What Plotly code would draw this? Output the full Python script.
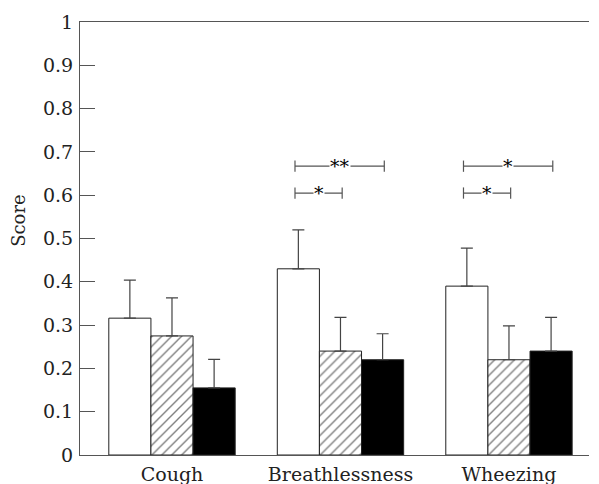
import plotly.graph_objects as go

categories = ["Cough", "Breathlessness", "Wheezing"]
series_names = ["Group A", "Group B", "Group C"]
values_a = [0.316, 0.430, 0.390]
errors_a = [0.088, 0.090, 0.088]
values_b = [0.275, 0.240, 0.220]
errors_b = [0.088, 0.078, 0.078]
values_c = [0.155, 0.220, 0.240]
errors_c = [0.066, 0.060, 0.078]
y_ticks = [0, 0.1, 0.2, 0.3, 0.4, 0.5, 0.6, 0.7, 0.8, 0.9, 1]
y_tick_labels = ["0", "0.1", "0.2", "0.3", "0.4", "0.5", "0.6", "0.7", "0.8", "0.9", "1"]
# significance brackets: (category index, from bar, to bar, level, label)
brackets = [
    (1, 0, 2, 0.667, "**"),
    (1, 0, 1, 0.605, "*"),
    (2, 0, 2, 0.667, "*"),
    (2, 0, 1, 0.605, "*"),
]

FONT = "DejaVu Serif"
n_series = 3
bar_w = 0.25

fig = go.Figure()
styles = [
    dict(color="white", pattern=None),
    dict(color="white", pattern=dict(shape="/", fgcolor="#000", bgcolor="white", size=7, solidity=0.2)),
    dict(color="black", pattern=None),
]
for name, vals, errs, st in zip(series_names, [values_a, values_b, values_c],
                                [errors_a, errors_b, errors_c], styles):
    marker = dict(color=st["color"], line=dict(color="#222", width=1))
    if st["pattern"]:
        marker["pattern"] = st["pattern"]
    fig.add_trace(go.Bar(
        x=categories, y=vals, name=name, marker=marker,
        error_y=dict(type="data", array=errs, arrayminus=[0] * len(errs), symmetric=False,
                     color="#444", thickness=1.2, width=6),
        showlegend=False,
    ))

def bar_center(ci, bi):
    return ci + (bi - (n_series - 1) / 2) * bar_w

for ci, b0, b1, lev, lab in brackets:
    x0 = bar_center(ci, b0) - 0.02
    x1 = bar_center(ci, b1) + 0.01
    lc = dict(color="#555", width=1.2)
    fig.add_shape(type="line", x0=x0, x1=x1, y0=lev, y1=lev, line=lc)
    fig.add_shape(type="line", x0=x0, x1=x0, y0=lev - 0.013, y1=lev + 0.013, line=lc)
    fig.add_shape(type="line", x0=x1, x1=x1, y0=lev - 0.013, y1=lev + 0.013, line=lc)
    fig.add_annotation(x=(x0 + x1) / 2, y=lev, text=lab, showarrow=False,
                       bgcolor="white", font=dict(family=FONT, size=19, color="#000"),
                       yshift=0, borderpad=0)

fig.add_annotation(x=-0.12, y=0.543, xref="paper", yref="y", xanchor="center", yanchor="middle",
                   text="Score", textangle=-90,
                   showarrow=False, font=dict(family=FONT, size=18, color="#222"))

fig.update_layout(
    width=599, height=484,
    margin=dict(l=80, r=10, t=22, b=29, autoexpand=False),
    paper_bgcolor="white", plot_bgcolor="white",
    barmode="group", bargap=0.25, bargroupgap=0,
    font=dict(family=FONT, size=19, color="#222"),
    xaxis=dict(range=[-0.546, 2.475], showline=True, mirror=True, linecolor="#555", linewidth=1.2,
               ticks="", showgrid=False, ticklabelstandoff=2, automargin=False,
               tickfont=dict(family=FONT, size=19, color="#222")),
    yaxis=dict(range=[0, 1], tickvals=y_ticks, ticktext=y_tick_labels, showline=True,
               linecolor="#555", linewidth=1.2, ticks="inside", ticklen=15, tickcolor="#555",
               tickwidth=1, showgrid=False, zeroline=False, ticklabelstandoff=2, automargin=False,
               tickfont=dict(family=FONT, size=19, color="#222")),
)

fig.write_html("out.html")
